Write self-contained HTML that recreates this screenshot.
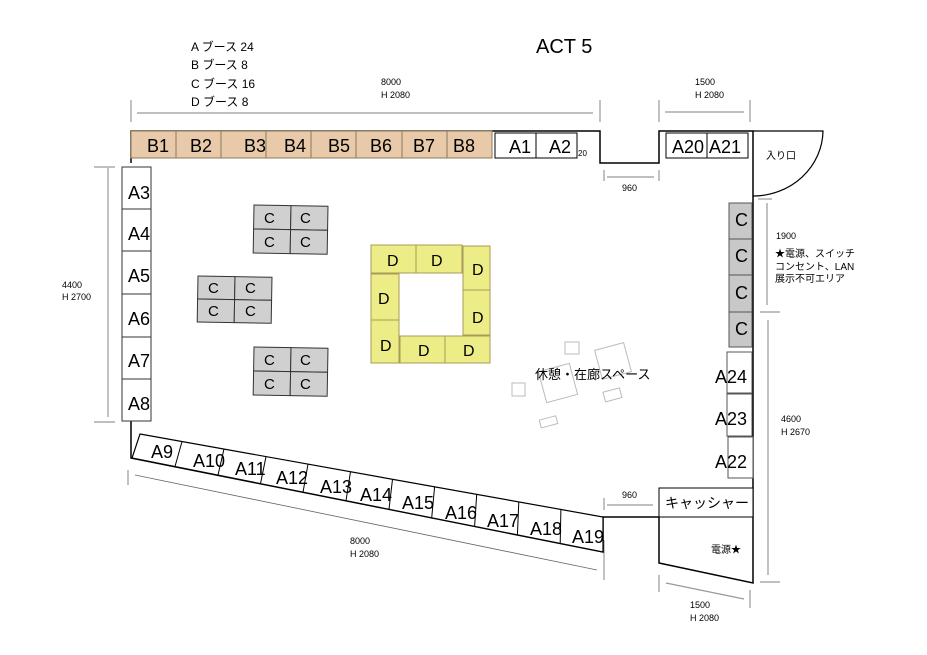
<!DOCTYPE html>
<html><head><meta charset="utf-8"><style>
html,body{margin:0;padding:0;background:#fff;}
svg{display:block;}
text{font-family:"Liberation Sans","Noto Sans CJK JP",sans-serif;fill:#000;}
.b{font-size:18px;}
.s{font-size:9px;}
.dim{stroke:#999;stroke-width:1.2;fill:none;}
.w{stroke:#000;stroke-width:1.5;fill:none;}
.rest{stroke:#bbb;stroke-width:1;fill:none;}
</style></head><body>
<svg width="927" height="655" viewBox="0 0 927 655" xmlns="http://www.w3.org/2000/svg">
<rect width="927" height="655" fill="#fff"/>
<text x="536" y="53" style="font-size:20px">ACT 5</text>
<text x="191" y="51" style="font-size:12px">A ブース 24</text>
<text x="191" y="69" style="font-size:12px">B ブース 8</text>
<text x="191" y="88" style="font-size:12px">C ブース 16</text>
<text x="191" y="106" style="font-size:12px">D ブース 8</text>

<line class="dim" x1="137" y1="113" x2="593" y2="113"/>
<line class="dim" x1="131" y1="100" x2="131" y2="122"/>
<line class="dim" x1="600" y1="100" x2="600" y2="122"/>
<text class="s" x="381" y="85">8000</text><text class="s" x="381" y="98">H 2080</text>
<line class="dim" x1="665" y1="112" x2="744" y2="112"/>
<line class="dim" x1="659" y1="100" x2="659" y2="122"/>
<line class="dim" x1="750" y1="100" x2="750" y2="122"/>
<text class="s" x="695" y="85">1500</text><text class="s" x="695" y="98">H 2080</text>
<line class="dim" x1="607" y1="177" x2="654" y2="177"/>
<line class="dim" x1="604" y1="170" x2="604" y2="181"/>
<line class="dim" x1="659" y1="170" x2="659" y2="181"/>
<text class="s" x="622" y="191">960</text>
<line class="dim" x1="108" y1="168" x2="108" y2="417"/>
<line class="dim" x1="94" y1="167" x2="115" y2="167"/>
<line class="dim" x1="94" y1="422" x2="115" y2="422"/>
<text class="s" x="62" y="288">4400</text><text class="s" x="62" y="300">H 2700</text>
<line class="dim" x1="767" y1="203" x2="767" y2="305"/>
<line class="dim" x1="758" y1="199" x2="772" y2="199"/>
<line class="dim" x1="760" y1="312" x2="780" y2="312"/>
<text class="s" x="776" y="239">1900</text>
<text style="font-size:10px" x="775" y="257">★電源、スイッチ</text>
<text style="font-size:10px" x="775" y="270">コンセント、LAN</text>
<text style="font-size:10px" x="775" y="282">展示不可エリア</text>
<line class="dim" x1="768" y1="320" x2="768" y2="575"/>
<line class="dim" x1="760" y1="582" x2="780" y2="582"/>
<text class="s" x="781" y="422">4600</text><text class="s" x="781" y="435">H 2670</text>
<line class="dim" x1="135" y1="475" x2="597" y2="570" style="stroke:#666;stroke-width:0.8"/>
<line class="dim" x1="128" y1="470" x2="128" y2="485"/>
<line class="dim" x1="604" y1="540" x2="604" y2="580"/>
<text class="s" x="350" y="544">8000</text><text class="s" x="350" y="557">H 2080</text>
<line class="dim" x1="607" y1="505" x2="653" y2="505"/>
<line class="dim" x1="604" y1="498" x2="604" y2="510"/>
<text class="s" x="622" y="498">960</text>
<line class="dim" x1="666" y1="583" x2="744" y2="599"/>
<line class="dim" x1="659" y1="575" x2="659" y2="592"/>
<line class="dim" x1="750" y1="590" x2="750" y2="608"/>
<text class="s" x="690" y="608">1500</text><text class="s" x="690" y="621">H 2080</text>

<polyline class="w" points="131,163 131,131 600,131 600,163 659,163 659,131 753,131 753,583 659,563 659,517 603,517 603,552 131,458 131,420"/>
<path d="M753,131 L823,131 A70,66 0 0 1 753,196" fill="none" stroke="#000" stroke-width="1.2"/>
<text x="766" y="159" style="font-size:10px">入り口</text>

<g fill="#e8c9a9" stroke="#8a7a5a" stroke-width="1">
<rect x="131" y="131" width="45" height="27"/><rect x="176" y="131" width="45" height="27"/>
<rect x="221" y="131" width="45" height="27"/><rect x="266" y="131" width="45" height="27"/>
<rect x="311" y="131" width="45" height="27"/><rect x="356" y="131" width="46" height="27"/>
<rect x="402" y="131" width="45" height="27"/><rect x="447" y="131" width="45" height="27"/>
</g>
<text class="b" x="147" y="152">B1</text><text class="b" x="190" y="152">B2</text>
<text class="b" x="244" y="152">B3</text><text class="b" x="284" y="152">B4</text>
<text class="b" x="328" y="152">B5</text><text class="b" x="370" y="152">B6</text>
<text class="b" x="413" y="152">B7</text><text class="b" x="453" y="152">B8</text>
<g fill="#fff" stroke="#000" stroke-width="1">
<rect x="495" y="133" width="41" height="25"/><rect x="536" y="133" width="41" height="25"/>
<rect x="666" y="133" width="41" height="25"/><rect x="707" y="133" width="41" height="25"/>
</g>
<text class="b" x="509" y="153">A1</text><text class="b" x="549" y="153">A2</text>
<text style="font-size:8px" x="578" y="156">20</text>
<text class="b" x="672" y="153">A20</text><text class="b" x="709" y="153">A21</text>

<g fill="#fff" stroke="#333" stroke-width="1">
<rect x="122" y="167" width="29" height="42"/><rect x="122" y="209" width="29" height="42"/>
<rect x="122" y="251" width="29" height="43"/><rect x="122" y="294" width="29" height="43"/>
<rect x="122" y="337" width="29" height="42"/><rect x="122" y="379" width="29" height="42"/>
</g>
<text class="b" x="128" y="199">A3</text><text class="b" x="128" y="240">A4</text>
<text class="b" x="128" y="282">A5</text><text class="b" x="128" y="325">A6</text>
<text class="b" x="128" y="367">A7</text><text class="b" x="128" y="410">A8</text>

<polygon points="140,434 603,517 603,552 132,458" fill="#fff" stroke="#000" stroke-width="1.2"/>
<g stroke="#000" stroke-width="1">
<line x1="182" y1="441.5" x2="175" y2="466.5"/>
<line x1="224" y1="449" x2="218" y2="475"/>
<line x1="266" y1="456.6" x2="260.5" y2="483.6"/>
<line x1="308" y1="464.2" x2="303" y2="492.2"/>
<line x1="350.5" y1="471.7" x2="346" y2="500.7"/>
<line x1="392.5" y1="479.3" x2="389" y2="509.3"/>
<line x1="434.6" y1="486.8" x2="431.7" y2="517.8"/>
<line x1="476.7" y1="494.4" x2="474.6" y2="526.4"/>
<line x1="518.8" y1="501.9" x2="517.4" y2="534.9"/>
<line x1="560.9" y1="509.5" x2="560.2" y2="543.5"/>
</g>
<text class="b" x="151" y="458">A9</text><text class="b" x="193" y="467">A10</text>
<text class="b" x="235" y="475">A11</text><text class="b" x="276" y="484">A12</text>
<text class="b" x="320" y="493">A13</text><text class="b" x="360" y="501">A14</text>
<text class="b" x="402" y="509">A15</text><text class="b" x="445" y="519">A16</text>
<text class="b" x="487" y="527">A17</text><text class="b" x="530" y="535">A18</text>
<text class="b" x="572" y="543">A19</text>

<g fill="#c8c8c8" stroke="#555" stroke-width="1">
<rect x="729" y="203" width="23" height="36"/><rect x="729" y="239" width="23" height="36"/>
<rect x="729" y="275" width="23" height="37"/><rect x="729" y="312" width="23" height="35"/>
</g>
<text class="b" x="735" y="226">C</text><text class="b" x="735" y="262">C</text>
<text class="b" x="735" y="299">C</text><text class="b" x="735" y="335">C</text>
<g fill="#fff" stroke="#555" stroke-width="1">
<rect x="727" y="352" width="25" height="41"/><rect x="727" y="394" width="25" height="42"/>
<rect x="728" y="437" width="25" height="41"/>
</g>
<text class="b" x="715" y="383">A24</text><text class="b" x="715" y="425">A23</text>
<text class="b" x="715" y="468">A22</text>
<rect x="659" y="488" width="94" height="29" fill="#fff" stroke="#000" stroke-width="1"/>
<text x="665" y="508" style="font-size:14px">キャッシャー</text>
<text x="711" y="553" style="font-size:10px">電源★</text>

<g fill="#d0d0d0" stroke="#333" stroke-width="1">
<g transform="translate(254,205) rotate(1)">
<rect width="37" height="24"/><rect x="37" width="37" height="24"/><rect y="24" width="37" height="24"/><rect x="37" y="24" width="37" height="24"/>
</g>
<g transform="translate(198,276) rotate(1)">
<rect width="37" height="23"/><rect x="37" width="37" height="23"/><rect y="23" width="37" height="23"/><rect x="37" y="23" width="37" height="23"/>
</g>
<g transform="translate(254,347) rotate(1)">
<rect width="37" height="24"/><rect x="37" width="37" height="24"/><rect y="24" width="37" height="24"/><rect x="37" y="24" width="37" height="24"/>
</g>
</g>
<g style="font-size:15px">
<text x="264" y="223">C</text><text x="300" y="223">C</text><text x="264" y="247">C</text><text x="300" y="247">C</text>
<text x="208" y="293">C</text><text x="245" y="293">C</text><text x="208" y="316">C</text><text x="245" y="316">C</text>
<text x="264" y="365">C</text><text x="300" y="365">C</text><text x="264" y="389">C</text><text x="300" y="389">C</text>
</g>

<g fill="#eded88" stroke="#a89a5a" stroke-width="1">
<rect x="371" y="245" width="45" height="28"/><rect x="416" y="245" width="46" height="28"/>
<rect x="463" y="246" width="27" height="44"/><rect x="463" y="290" width="27" height="45"/>
<rect x="371" y="274" width="28" height="46"/><rect x="371" y="320" width="28" height="43"/>
<rect x="400" y="336" width="45" height="27"/><rect x="445" y="336" width="45" height="27"/>
</g>
<g style="font-size:16px">
<text x="387" y="266">D</text><text x="431" y="266">D</text><text x="472" y="275">D</text>
<text x="472" y="323">D</text><text x="378" y="304">D</text><text x="380" y="351">D</text>
<text x="418" y="356">D</text><text x="463" y="356">D</text>
</g>

<rect class="rest" x="565" y="342" width="14" height="12"/>
<rect class="rest" x="598" y="346" width="30" height="30" transform="rotate(-15 613 361)"/>
<rect class="rest" x="542" y="367" width="32" height="32" transform="rotate(-15 558 383)"/>
<rect class="rest" x="512" y="383" width="13" height="13"/>
<rect class="rest" x="604" y="390" width="17" height="10" transform="rotate(-15 612 395)"/>
<rect class="rest" x="540" y="418" width="17" height="8" transform="rotate(-15 548 422)"/>
<text x="535" y="379" style="font-size:13px">休憩・在廊スペース</text>
</svg>
</body></html>
